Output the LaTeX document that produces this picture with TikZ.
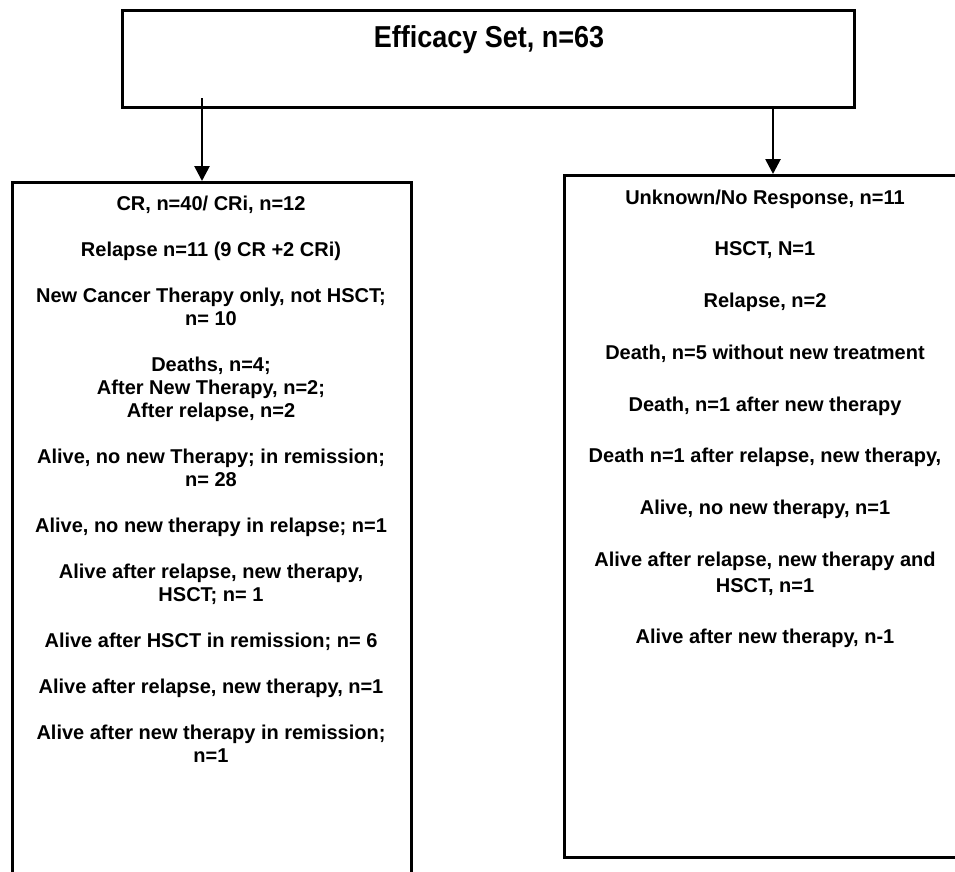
\documentclass[tikz,border=0pt]{standalone}
\usepackage{fontspec}
\setmainfont{Liberation Sans}
\usetikzlibrary{arrows.meta, positioning}
\tikzset{
  box/.style={draw=black, line width=2.7pt, inner sep=0pt},
  lefttext/.style={align=center, inner sep=0pt, anchor=north,
                   font=\fontsize{20}{23}\selectfont\bfseries},
  righttext/.style={align=center, inner sep=0pt, anchor=north,
                    font=\fontsize{20}{26}\selectfont\bfseries},
  arr/.style={line width=2.7pt, -{Triangle[width=15pt,length=15pt]}}
}

\begin{document}
\begin{tikzpicture}[x=1pt, y=-1pt]
    % Frame (page size)
    \clip (0,0) rectangle (955,871);

    % Top box
    \node[box, minimum width=732pt, minimum height=97pt, anchor=north west]
        (efficacy) at (121,9) {};
    \node[inner sep=0pt, anchor=base, font=\fontsize{27}{30}\selectfont\bfseries]
        (title) at (489,47) {\scalebox{1}[1.12]{Efficacy Set, n=63}};

    % Left box: responders
    \node[box, minimum width=399pt, minimum height=730pt, anchor=north west]
        (crbox) at (11,181) {};
    \node[lefttext] (crtext) at (211,195.5) {%
        CR, n=40/ CRi, n=12\\[23pt]
        Relapse n=11 (9 CR +2 CRi)\\[23pt]
        New Cancer Therapy only, not HSCT;\\ n= 10\\[23pt]
        Deaths, n=4;\\ After New Therapy, n=2;\\ After relapse, n=2\\[23pt]
        Alive, no new Therapy; in remission;\\ n= 28\\[23pt]
        Alive, no new therapy in relapse; n=1\\[23pt]
        Alive after relapse, new therapy,\\ HSCT; n= 1\\[23pt]
        Alive after HSCT in remission; n= 6\\[23pt]
        Alive after relapse, new therapy, n=1\\[23pt]
        Alive after new therapy in remission;\\ n=1};

    % Right box: no response
    \node[box, minimum width=420pt, minimum height=682pt, anchor=north west]
        (nrbox) at (563,174) {};
    \node[righttext] (nrtext) at (765,189.5) {%
        Unknown/No Response, n=11\\[25.7pt]
        HSCT, N=1\\[25.7pt]
        Relapse, n=2\\[25.7pt]
        Death, n=5 without new treatment\\[25.7pt]
        Death, n=1 after new therapy\\[25.7pt]
        Death n=1 after relapse, new therapy,\\[25.7pt]
        Alive, no new therapy, n=1\\[25.7pt]
        Alive after relapse, new therapy and\\ HSCT, n=1\\[25.7pt]
        Alive after new therapy, n-1};

    % Arrows
    \coordinate (lstart) at (202,98);
    \coordinate (rstart) at (773,106);
    \draw[arr] (lstart) -- (lstart |- crbox.north);
    \draw[arr] (rstart) -- (rstart |- nrbox.north);
\end{tikzpicture}
\end{document}
